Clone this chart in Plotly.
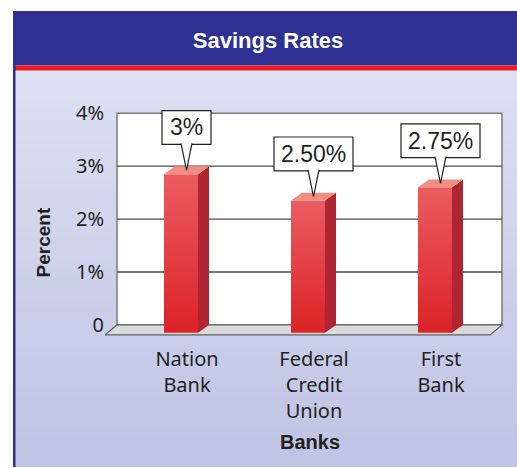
import plotly.graph_objects as go

# data
banks = ["Nation<br>Bank", "Federal<br>Credit<br>Union", "First<br>Bank"]
rates = [3.0, 2.5, 2.75]
rate_labels = ["3%", "2.50%", "2.75%"]
y_ticks = [0, 1, 2, 3, 4]
y_tick_text = ["0", "1%", "2%", "3%", "4%"]

W, H = 517, 468
OFF = 0             # body margin is removed in the page, so figure px == screen px
# plot-area geometry in screen pixels
X0_PX, X1_PX = 105, 504
Y_TOP_PX, Y_BOT_PX = 100, 337
ORIGIN_X = 192      # pixel of first category (back face centre)
ZERO_Y = 325        # pixel of 0 %
PX_X = 127.0        # pixels per category step
PX_Y = 53.25        # pixels per 1 %

SANS = "Liberation Sans, Arial, sans-serif"
HUMAN = "Noto Sans, Open Sans, sans-serif"


def ux(p):
    return p / PX_X


def uy(p):
    return p / PX_Y


def px(p):
    return (p - OFF) / W


def py(p):
    return 1 - (p - OFF) / H


xr = [ux(X0_PX - ORIGIN_X), ux(X1_PX - ORIGIN_X)]
yr = [-uy(Y_BOT_PX - ZERO_Y), uy(ZERO_Y - Y_TOP_PX)]
wall_l, wall_r = ux(117 - ORIGIN_X), ux(502 - ORIGIN_X)

shapes = []
# background panel gradient
top_c, bot_c = (220, 224, 242), (191, 196, 228)
n = 40
for k in range(n):
    t = k / (n - 1)
    col = tuple(round(top_c[j] + (bot_c[j] - top_c[j]) * t) for j in range(3))
    ya = 69 + (H + OFF - 69) * k / n
    yb = 69 + (H + OFF - 69) * (k + 1) / n
    shapes.append(dict(type="rect", xref="paper", yref="paper", layer="below",
                       x0=px(13), x1=1, y0=py(yb), y1=py(ya) + 0.002,
                       fillcolor="rgb(%d,%d,%d)" % col, line_width=0))
# title band, red stripe and left border
shapes.append(dict(type="rect", xref="paper", yref="paper", layer="below",
                   x0=px(13), x1=1, y0=py(64), y1=py(9),
                   fillcolor="#2E3192", line_width=0))
shapes.append(dict(type="rect", xref="paper", yref="paper", layer="below",
                   x0=px(13), x1=1, y0=py(69), y1=py(64),
                   fillcolor="#EE1D25", line_width=0))
shapes.append(dict(type="rect", xref="paper", yref="paper", layer="below",
                   x0=px(13), x1=px(15.5), y0=0, y1=py(9),
                   fillcolor="#2E3192", line_width=0))
# back wall
shapes.append(dict(type="rect", xref="x", yref="y", layer="below",
                   x0=wall_l, x1=wall_r, y0=0, y1=4,
                   fillcolor="white", line=dict(color="#7A7A7A", width=1.5)))
# grid lines
for v in y_ticks[1:-1]:
    shapes.append(dict(type="line", xref="x", yref="y", layer="below",
                       x0=wall_l, x1=wall_r, y0=v, y1=v,
                       line=dict(color="#4A4A4A", width=1.3)))
# floor
fdx, fdy = ux(12), uy(10)
shapes.append(dict(type="path", xref="x", yref="y", layer="below",
                   path="M %f,0 L %f,0 L %f,%f L %f,%f Z" % (
                       wall_l, wall_r, wall_r - fdx, -fdy, wall_l - fdx, -fdy),
                   fillcolor="#DADADA", line=dict(color="#606060", width=1.2)))

fig = go.Figure()

half = ux(17)
dx, dy = ux(11), uy(8)
annotations = []
for i, v in enumerate(rates):
    c = i
    fl, fr = c - half - dx, c + half - dx
    # front face
    fig.add_trace(go.Scatter(
        x=[fl, fr, fr, fl, fl], y=[-dy, -dy, v - dy, v - dy, -dy],
        mode="lines", fill="toself", line=dict(width=0, color="rgba(0,0,0,0)"),
        fillgradient=dict(type="vertical", colorscale=[[0, "#DC2227"], [1, "#EA5C61"]]),
        hoverinfo="skip", showlegend=False))
    # side face
    fig.add_trace(go.Scatter(
        x=[fr, c + half, c + half, fr, fr], y=[-dy, 0, v, v - dy, -dy],
        mode="lines", fill="toself", fillcolor="#AE2631",
        line=dict(width=0, color="rgba(0,0,0,0)"), hoverinfo="skip", showlegend=False))
    # top face
    fig.add_trace(go.Scatter(
        x=[fl, fr, c + half, c - half, fl], y=[v - dy, v - dy, v, v, v - dy],
        mode="lines", fill="toself", fillcolor="#F18D81",
        line=dict(width=0, color="rgba(0,0,0,0)"), hoverinfo="skip", showlegend=False))

    # callout box with pointer
    tx, ty = c - dx / 2, v - dy / 2
    bw = ux(29 + 10 * len(rate_labels[i]))
    b0 = ty + uy(26)
    b1 = b0 + uy(34)
    shapes.append(dict(type="rect", xref="x", yref="y", layer="above",
                       x0=tx - bw / 2, x1=tx + bw / 2, y0=b0, y1=b1,
                       fillcolor="white", line=dict(color="#231F20", width=1.2)))
    pw = ux(5.5)
    shapes.append(dict(type="path", xref="x", yref="y", layer="above",
                       path="M %f,%f L %f,%f L %f,%f" % (
                           tx - pw, b0 + uy(1), tx, ty, tx + pw, b0 + uy(1)),
                       fillcolor="white", line=dict(color="#231F20", width=1.2)))
    annotations.append(dict(x=tx, y=(b0 + b1) / 2, xref="x", yref="y",
                            xanchor="center", yanchor="middle",
                            text=rate_labels[i], showarrow=False,
                            font=dict(family=SANS, size=23, color="#231F20")))

annotations.append(dict(x=px(43), y=py(242), xref="paper", yref="paper",
                        xanchor="center", yanchor="middle",
                        text="<b>Percent</b>", textangle=-90, showarrow=False,
                        font=dict(family=SANS, size=19, color="#231F20")))
annotations.append(dict(x=px(310), y=py(443), xref="paper", yref="paper",
                        xanchor="center", yanchor="middle",
                        text="<b>Banks</b>", showarrow=False,
                        font=dict(family=SANS, size=20, color="#231F20")))

fig.update_layout(
    width=W, height=H, autosize=False,
    margin=dict(l=0, r=0, t=0, b=0),
    paper_bgcolor="white", plot_bgcolor="rgba(0,0,0,0)",
    title=dict(text="<b>Savings Rates</b>", x=px(268), y=py(40),
               xanchor="center", yanchor="middle",
               font=dict(family=SANS, size=22, color="white")),
    shapes=shapes, annotations=annotations, showlegend=False,
    xaxis=dict(domain=[px(X0_PX), px(X1_PX)], range=xr, showgrid=False, zeroline=False,
               showline=False, tickmode="array", tickvals=[i - ux(5) for i in range(len(banks))],
               ticktext=banks, ticks="", ticklabelstandoff=8,
               tickfont=dict(family=HUMAN, size=20, color="#231F20")),
    yaxis=dict(domain=[py(Y_BOT_PX), py(Y_TOP_PX)], range=yr, showgrid=False,
               zeroline=False, showline=False, tickmode="array", tickvals=y_ticks,
               ticktext=y_tick_text, ticks="",
               tickfont=dict(family=HUMAN, size=20, color="#231F20")),
)

fig.write_html("out.html", config={"displayModeBar": False},
               post_script="document.body.style.margin='0';document.body.style.overflow='hidden';")
